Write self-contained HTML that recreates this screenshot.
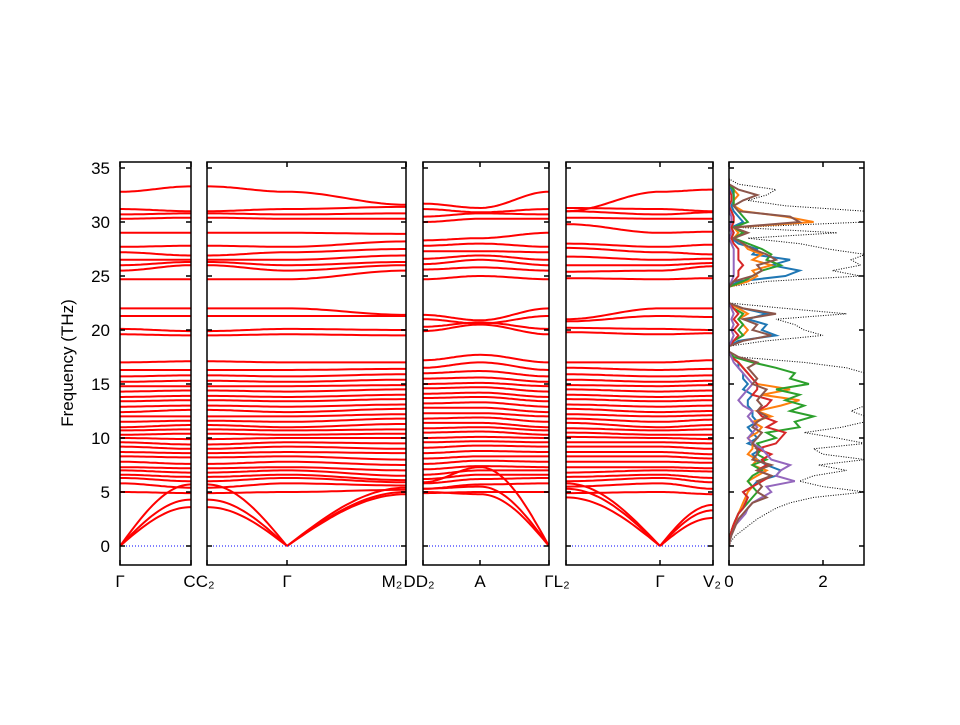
<!DOCTYPE html>
<html><head><meta charset="utf-8"><style>
body{margin:0;background:#fff;}
svg text{font-family:"Liberation Sans",sans-serif;font-size:17px;fill:#000;}
</style></head><body>
<svg id="c" width="960" height="720" xmlns="http://www.w3.org/2000/svg"></svg>
<script>
const yTicks=[0,5,10,15,20,25,30,35];
const dosTicks=[0,2];
const gammaBands=[5.0,5.8,6.3,6.6,7.0,7.3,7.8,8.3,8.7,9.2,9.6,10.0,10.3,10.7,11.0,11.5,12.0,12.4,12.9,13.4,13.8,14.3,14.8,15.2,15.7,16.3,17.0,19.6,20.1,21.3,22.0,24.7,25.5,26.0,26.5,27.2,27.7,29.0,30.3,30.7,31.2,32.8];
const cBands=[4.9,5.4,6.0,6.4,6.8,7.2,7.6,8.2,8.6,9.0,9.4,9.9,10.4,10.8,11.2,11.6,12.0,12.6,13.0,13.5,13.9,14.4,14.8,15.3,15.8,16.3,17.1,19.5,19.9,21.3,22.0,24.7,26.0,26.3,26.5,26.9,27.8,29.0,30.4,30.8,31.0,33.3];
const m2Bands=[5.2,5.6,5.9,6.1,6.5,7.0,7.5,8.0,8.6,9.0,9.5,10.0,10.4,10.8,11.3,11.8,12.2,12.7,13.1,13.6,14.0,14.5,14.9,15.4,15.9,16.4,17.0,19.5,20.0,21.3,21.4,25.5,26.0,26.3,26.9,27.5,28.2,28.9,30.3,30.8,31.4,31.6];
const d2Bands=[4.9,5.3,5.8,6.2,6.6,7.1,7.6,8.1,8.6,9.1,9.6,10.0,10.5,10.9,11.4,11.8,12.3,12.8,13.2,13.7,14.1,14.6,15.0,15.5,16.0,16.5,17.2,19.9,20.3,21.0,21.4,24.7,25.6,26.1,26.6,27.3,27.8,28.3,30.0,30.5,31.2,31.7];
const aBands=[5.0,5.7,6.2,6.6,7.0,7.4,7.9,8.3,8.8,9.3,9.7,10.1,10.6,11.0,11.4,11.9,12.3,12.8,13.3,13.8,14.2,14.7,15.1,15.6,16.2,17.0,17.7,20.5,20.7,20.6,20.9,25.0,25.8,26.5,26.9,27.3,28.0,28.5,30.3,30.8,30.9,31.3];
const l2Bands=[4.9,5.5,6.0,6.4,6.8,7.3,7.8,8.3,8.7,9.2,9.6,10.1,10.5,10.9,11.4,11.8,12.2,12.7,13.1,13.6,14.0,14.5,14.9,15.4,15.9,16.5,17.0,19.8,20.2,20.8,21.0,24.8,25.4,26.0,26.8,27.6,28.0,29.8,30.4,31.0,31.3,31.0];
const v2Bands=[4.8,5.3,5.9,6.3,6.9,7.2,7.7,8.1,8.5,9.0,9.5,9.9,10.3,10.8,11.2,11.7,12.1,12.5,13.0,13.5,13.9,14.4,14.9,15.3,15.8,16.4,17.2,19.7,20.0,21.2,22.0,24.8,25.9,26.2,26.6,27.0,27.9,29.1,30.3,30.9,31.0,33.0];
const acC=[3.6,4.3,5.7], acM2=[4.8,5.0,5.4], acD2=[5.0,5.3,5.9], acA=[4.8,5.5,7.3], acL2=[4.5,5.3,5.8], acV2=[2.6,3.3,3.8];
const dosTotal=[0,0.05,0.15,0.3,0.45,0.6,0.8,1.0,1.3,1.8,2.9,2.0,1.5,1.8,2.5,1.9,2.9,2.0,1.8,2.9,2.3,1.6,2.4,2.9,2.9,2.6,2.9,2.9,2.9,2.9,2.9,2.9,2.9,2.5,1.6,0.2,0,0,0.8,2.0,1.6,1.4,1.0,2.5,1.2,0,0,0,0,0.8,2.8,2.2,2.8,2.6,2.9,2.1,1.5,0.4,2.3,0.2,2.9,2.9,2.9,1.2,0.4,0.8,1.0,0.2,0];
const dosBlue=[0,0.01,0.03,0.06,0.1,0.15,0.2,0.3,0.35,0.4,0.3,0.5,0.6,1.0,1.1,0.8,0.6,0.5,0.7,0.4,0.6,0.5,0.4,0.6,0.5,0.5,0.4,0.4,0.5,0.3,0.4,0.3,0.3,0.2,0.2,0.05,0,0,0.2,1.0,0.7,0.8,0.4,0.8,0.3,0,0,0,0,0.2,1.2,1.5,0.9,1.3,0.5,0.6,0.2,0.05,0.1,0.05,0.3,0.2,0.1,0.05,0.1,0.1,0.05,0,0];
const dosOrange=[0,0.01,0.03,0.06,0.1,0.15,0.2,0.25,0.3,0.35,0.4,0.5,0.4,0.6,0.8,0.5,0.6,0.4,0.5,0.5,0.4,0.6,0.7,0.5,0.9,0.6,1.1,1.5,0.7,1.3,0.6,0.5,0.4,0.3,0.2,0.05,0,0,0.1,0.3,0.4,0.3,0.2,0.4,0.2,0,0,0,0,0.4,0.6,0.5,0.9,0.5,0.7,0.4,0.3,0.1,0.2,0.1,1.8,1.2,0.3,0.1,0.1,0.2,0.1,0,0];
const dosGreen=[0,0.01,0.03,0.06,0.1,0.15,0.2,0.3,0.4,0.5,0.6,0.5,0.4,0.5,0.7,0.5,0.8,0.6,0.7,0.6,1.0,0.8,1.5,1.4,1.8,1.3,1.6,1.2,1.5,1.0,1.7,1.3,1.4,1.0,0.5,0.1,0,0,0.1,0.3,0.2,0.3,0.2,0.3,0.1,0,0,0,0,0.3,0.5,0.7,1.1,0.8,0.9,0.7,0.4,0.1,0.3,0.1,0.4,0.3,0.2,0.1,0.1,0.1,0.1,0,0];
const dosRed=[0,0.01,0.03,0.06,0.1,0.15,0.2,0.3,0.35,0.4,0.3,0.5,0.7,0.9,0.6,0.8,0.7,0.9,0.6,1.0,1.1,1.2,0.8,1.0,0.7,0.6,0.8,0.9,0.5,0.6,0.6,0.5,0.4,0.3,0.2,0.05,0,0,0.1,0.2,0.1,0.2,0.1,0.2,0.1,0,0,0,0,0.1,0.2,0.2,0.3,0.2,0.2,0.2,0.1,0.05,0.1,0.05,0.1,0.1,0.05,0,0.05,0.05,0,0,0];
const dosPurple=[0,0.02,0.05,0.1,0.15,0.25,0.35,0.4,0.5,0.7,0.9,0.8,1.4,1.0,1.1,1.3,0.9,0.8,0.7,0.5,0.4,0.5,0.6,0.5,0.4,0.5,0.3,0.2,0.3,0.4,0.5,0.4,0.3,0.2,0.1,0.05,0,0,0.05,0.1,0.05,0.1,0.05,0.1,0.05,0,0,0,0,0.05,0.1,0.1,0.1,0.1,0.1,0.1,0.05,0,0.05,0,0.05,0.05,0,0,0,0,0,0,0];
const dosBrown=[0,0.02,0.05,0.1,0.15,0.2,0.3,0.4,0.5,0.8,0.6,0.7,0.6,0.9,0.6,0.9,0.5,0.6,0.6,0.5,0.6,0.7,0.5,0.6,0.8,0.6,0.7,0.6,0.7,0.8,0.5,0.6,0.5,0.4,0.6,0.2,0,0,0.3,0.9,0.5,0.6,0.3,1.0,0.3,0,0,0,0,0.1,0.5,0.7,0.6,1.0,0.8,0.5,0.3,0.1,0.4,0.1,1.5,1.3,0.2,0.1,0.3,0.6,0.2,0,0];

const S=document.getElementById('c'),NS='http://www.w3.org/2000/svg';
const Y0=546,PX=10.8,YT=162,YB=565;
const y=v=>Y0-v*PX;
function mk(t,a,p){const e=document.createElementNS(NS,t);for(const k in a)e.setAttribute(k,a[k]);(p||S).appendChild(e);return e;}
const panels=[[120,191],[207,406],[423,549],[566,713],[729,864]];
panels.forEach((p,i)=>{
 const cp=mk('clipPath',{id:'cp'+i});mk('rect',{x:p[0],y:YT,width:p[1]-p[0],height:YB-YT},cp);
});
const gBands=mk('g',{});


function seg(ci,xa,xb,va,vb,acoustic){
 const g=mk('g',{'clip-path':'url(#cp'+ci+')'},gBands);
 const n=24;
 for(let b=0;b<va.length;b++){
  let d='';
  for(let k=0;k<=n;k++){const t=k/n;let v;
   if(acoustic==='start')v=vb[b]*Math.sin(t*Math.PI/2);
   else if(acoustic==='end')v=va[b]*Math.sin((1-t)*Math.PI/2);
   else v=va[b]+(vb[b]-va[b])*(1-Math.cos(t*Math.PI))/2;
   d+=(k?'L':'M')+(xa+(xb-xa)*t).toFixed(1)+' '+y(v).toFixed(1);}
  const pth=mk('path',{d:d,fill:'none',stroke:'#ff0000','stroke-width':2},g);
  
  
 }
}
seg(0,120,191,gammaBands,cBands);seg(0,120,191,[0,0,0],acC,'start');
seg(1,207,287,cBands,gammaBands);seg(1,207,287,acC,[0,0,0],'end');
seg(1,287,406,gammaBands,m2Bands);seg(1,287,406,[0,0,0],acM2,'start');
seg(2,423,480,d2Bands,aBands);seg(2,423,480,acD2,acA);
seg(2,480,549,aBands,gammaBands);seg(2,480,549,acA,[0,0,0],'end');
seg(3,566,660,l2Bands,gammaBands);seg(3,566,660,acL2,[0,0,0],'end');
seg(3,660,713,gammaBands,v2Bands);seg(3,660,713,[0,0,0],acV2,'start');
for(let i=0;i<4;i++){const l=mk('line',{x1:panels[i][0],x2:panels[i][1],y1:y(0),y2:y(0),stroke:'#0000ff','stroke-width':1,'stroke-dasharray':'1,2'});
 }
const dx=v=>729+v*47;
const dg=mk('g',{'clip-path':'url(#cp4)'});

function dosLine(arr,col,dash,w,name){let d='';arr.forEach((v,i)=>{d+=(i?'L':'M')+dx(v).toFixed(1)+' '+y(i*0.5).toFixed(1);});
 const p=mk('path',{d:d,fill:'none',stroke:col,'stroke-width':w,'stroke-dasharray':dash||'none'},dg);
 }
dosLine(dosTotal,'#000','1,1.5',1,'dos-total');
dosLine(dosBlue,'#1f77b4','',2,'dos-partial-blue');
dosLine(dosOrange,'#ff7f0e','',2,'dos-partial-orange');
dosLine(dosGreen,'#2ca02c','',2,'dos-partial-green');
dosLine(dosRed,'#d62728','',2,'dos-partial-red');
dosLine(dosPurple,'#9467bd','',2,'dos-partial-purple');
dosLine(dosBrown,'#8c564b','',2,'dos-partial-brown');
panels.forEach((p,i)=>{
 const r=mk('rect',{x:p[0],y:YT,width:p[1]-p[0],height:YB-YT,fill:'none',stroke:'#000','stroke-width':1.5});
 
 yTicks.forEach(t=>{mk('line',{x1:p[0],x2:p[0]+5,y1:y(t),y2:y(t),stroke:'#000','stroke-width':1.5});
  mk('line',{x1:p[1],x2:p[1]-5,y1:y(t),y2:y(t),stroke:'#000','stroke-width':1.5});});
});
yTicks.forEach(t=>{const tx=mk('text',{x:110,y:y(t)+6,'text-anchor':'end'});tx.textContent=t;
 });
const xl=[[120,'Γ'],[191,'C'],[207,'C₂'],[287,'Γ'],[406,'M₂'],[406,'D'],[423,'D₂'],[480,'A'],[549,'Γ'],[566,'L₂'],[660,'Γ'],[713,'V₂']];
const xlabs=[[120,'Γ'],[199,'CC₂'],[287,'Γ'],[392,'M₂'],[419,'DD₂'],[480,'A'],[557,'ΓL₂'],[660,'Γ'],[712,'V₂']];
xl.forEach(a=>{mk('line',{x1:a[0],x2:a[0],y1:YB,y2:YB-5,stroke:'#000','stroke-width':1.5});mk('line',{x1:a[0],x2:a[0],y1:YT,y2:YT+5,stroke:'#000','stroke-width':1.5});});
xlabs.forEach(a=>{const t=mk('text',{x:a[0],y:587,'text-anchor':'middle'});t.textContent=a[1];
 });
dosTicks.forEach(v=>{mk('line',{x1:dx(v),x2:dx(v),y1:YB,y2:YB-5,stroke:'#000','stroke-width':1.5});mk('line',{x1:dx(v),x2:dx(v),y1:YT,y2:YT+5,stroke:'#000','stroke-width':1.5});
 const t=mk('text',{x:dx(v),y:587,'text-anchor':'middle'});t.textContent=v;
 });
const yt=mk('text',{x:73,y:363,'text-anchor':'middle',transform:'rotate(-90 73 363)'});yt.textContent='Frequency (THz)';

</script>
</body></html>
